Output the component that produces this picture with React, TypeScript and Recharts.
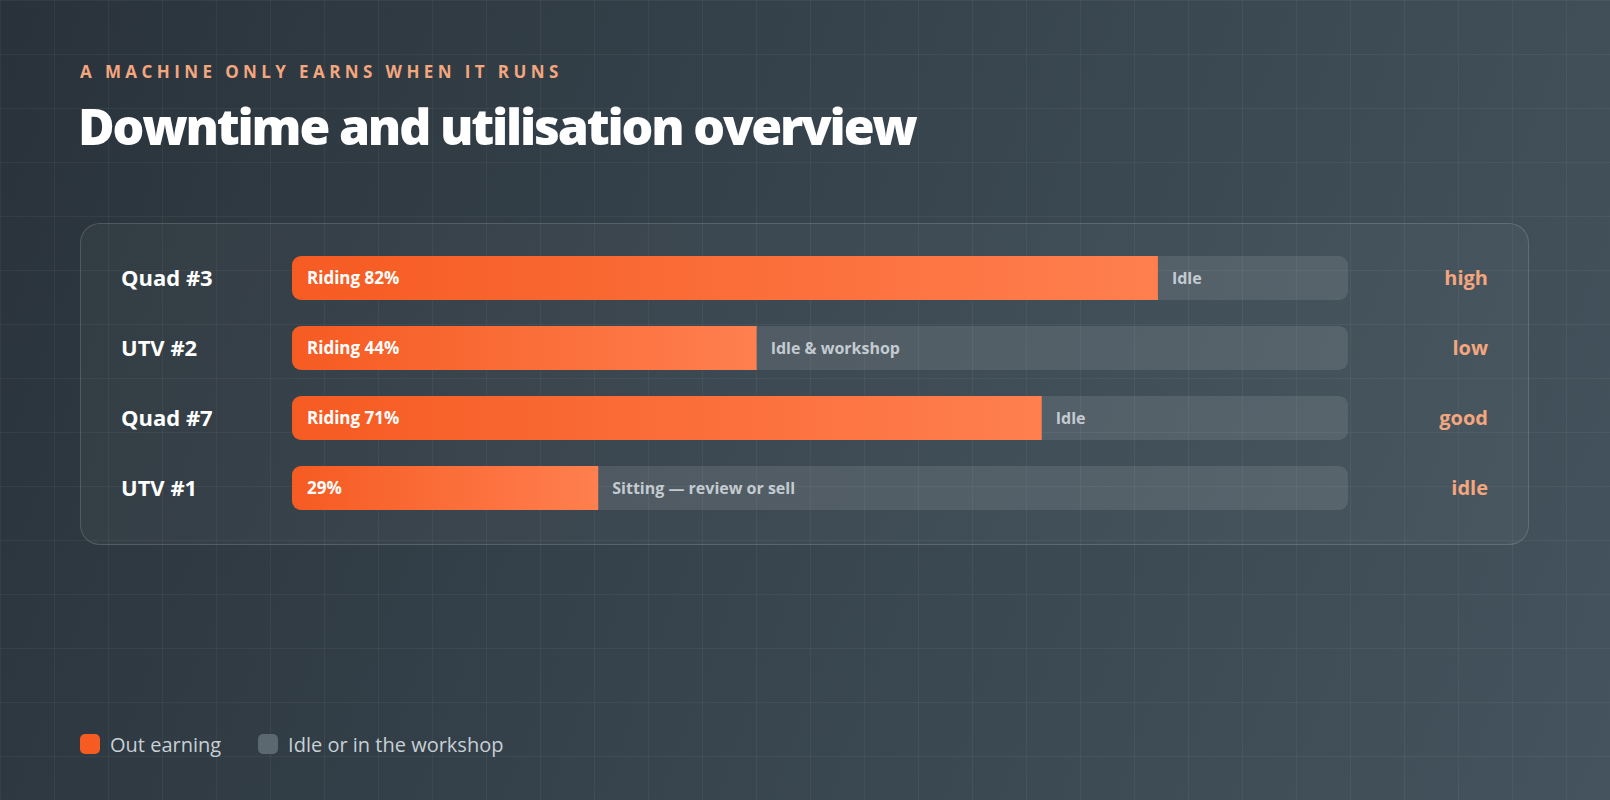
import React from "react";
import { BarChart, Bar, XAxis, YAxis, LabelList } from "recharts";

// Fleet utilisation: share of time each machine is out earning
const machines = ["Quad #3", "UTV #2", "Quad #7", "UTV #1"];
const ridingShare = [82, 44, 71, 29];
const ridingPrefix = ["Riding ", "Riding ", "Riding ", ""];
const idleNotes = ["Idle", "Idle & workshop", "Idle", "Sitting — review or sell"];
const ratings = ["high", "low", "good", "idle"];
const legendItems = ["Out earning", "Idle or in the workshop"];

const rows = machines.map((name, i) => ({
  name,
  earning: ridingShare[i],
  idle: 100 - ridingShare[i],
  earnLabel: `${ridingPrefix[i]}${ridingShare[i]}%`,
  idleNote: idleNotes[i],
  rating: ratings[i],
}));

const FONT = "'Open Sans', Lato, sans-serif";
const ORANGE = "#f65b22";
const PEACH = "#f4a67e";
const TRACK = "rgba(255,255,255,0.1)";

const LeftTick = (props: any) => (
  <text
    x={121}
    y={props.y}
    dy="0.36em"
    fill="#ffffff"
    fontFamily={FONT}
    fontWeight={700}
    fontSize={22}
  >
    {props.payload.value}
  </text>
);

const RightTick = (props: any) => (
  <text
    x={1488}
    y={props.y}
    dy="0.36em"
    textAnchor="end"
    fill={PEACH}
    fontFamily={FONT}
    fontWeight={700}
    fontSize={20}
  >
    {props.payload.value}
  </text>
);

const EarnLabel = (p: any) => (
  <text
    x={p.x + 15}
    y={p.y + p.height / 2}
    dy="0.36em"
    fill="#ffffff"
    fontFamily={FONT}
    fontWeight={700}
    fontSize={17}
  >
    {p.value}
  </text>
);

const IdleLabel = (p: any) => (
  <text
    x={p.x + 14}
    y={p.y + p.height / 2}
    dy="0.36em"
    fill="#c3cbd1"
    fontFamily={FONT}
    fontWeight={700}
    fontSize={16}
  >
    {p.value}
  </text>
);

export default function App() {
  return (
    <div
      style={{
        position: "fixed",
        left: 0,
        top: 0,
        width: 1610,
        height: 800,
        overflow: "hidden",
        fontFamily: FONT,
        background:
          "linear-gradient(110deg, #29323a 0%, #36434c 45%, #44535d 100%)",
      }}
    >
      {/* faint background grid */}
      <div
        style={{
          position: "absolute",
          inset: 0,
          backgroundImage:
            "linear-gradient(rgba(255,255,255,0.045) 1px, transparent 1px), linear-gradient(90deg, rgba(255,255,255,0.045) 1px, transparent 1px)",
          backgroundSize: "54px 54px",
        }}
      />
      <div
        style={{
          position: "absolute",
          left: 80,
          top: 60,
          color: PEACH,
          fontSize: 17,
          fontWeight: 700,
          letterSpacing: 4.4,
          lineHeight: "24px",
        }}
      >
        A MACHINE ONLY EARNS WHEN IT RUNS
      </div>
      <div
        style={{
          position: "absolute",
          left: 78,
          top: 90,
          color: "#ffffff",
          fontSize: 50,
          fontWeight: 800,
          letterSpacing: -2.2,
          lineHeight: "72px",
        }}
      >
        Downtime and utilisation overview
      </div>
      <div
        style={{
          position: "absolute",
          left: 80,
          top: 223,
          width: 1449,
          height: 322,
          boxSizing: "border-box",
          borderRadius: 20,
          border: "1px solid rgba(255,255,255,0.15)",
          background: "rgba(255,255,255,0.035)",
        }}
      />
      <div style={{ position: "absolute", left: 0, top: 0 }}>
        <BarChart
          width={1610}
          height={800}
          data={rows}
          layout="vertical"
          margin={{ top: 243, bottom: 277, left: 0, right: 122 }}
          barSize={44}
        >
          <defs>
            <linearGradient id="earnFill" x1="0" y1="0" x2="1" y2="0">
              <stop offset="0%" stopColor={ORANGE} />
              <stop offset="100%" stopColor="#ff7f4f" />
            </linearGradient>
          </defs>
          <XAxis type="number" domain={[0, 100]} hide />
          <YAxis
            yAxisId="left"
            type="category"
            dataKey="name"
            width={292}
            axisLine={false}
            tickLine={false}
            tick={LeftTick}
          />
          <YAxis
            yAxisId="right"
            orientation="right"
            type="category"
            dataKey="rating"
            width={140}
            axisLine={false}
            tickLine={false}
            tick={RightTick}
          />
          <Bar
            yAxisId="left"
            dataKey="earning"
            stackId="u"
            fill="url(#earnFill)"
            radius={[9, 0, 0, 9]}
            isAnimationActive={false}
          >
            <LabelList dataKey="earnLabel" content={EarnLabel} />
          </Bar>
          <Bar
            yAxisId="left"
            dataKey="idle"
            stackId="u"
            fill={TRACK}
            radius={[0, 9, 9, 0]}
            isAnimationActive={false}
          >
            <LabelList dataKey="idleNote" content={IdleLabel} />
          </Bar>
        </BarChart>
      </div>
      {/* legend */}
      <div
        style={{
          position: "absolute",
          left: 80,
          top: 734,
          height: 20,
          display: "flex",
          alignItems: "center",
          color: "#c8d0d5",
          fontSize: 20,
        }}
      >
        {legendItems.map((label, i) => (
          <div
            key={label}
            style={{ display: "flex", alignItems: "center", marginRight: 37 }}
          >
            <div
              style={{
                width: 20,
                height: 20,
                borderRadius: 5,
                background: i === 0 ? ORANGE : "#5b6870",
                marginRight: 10,
              }}
            />
            <span>{label}</span>
          </div>
        ))}
      </div>
    </div>
  );
}
